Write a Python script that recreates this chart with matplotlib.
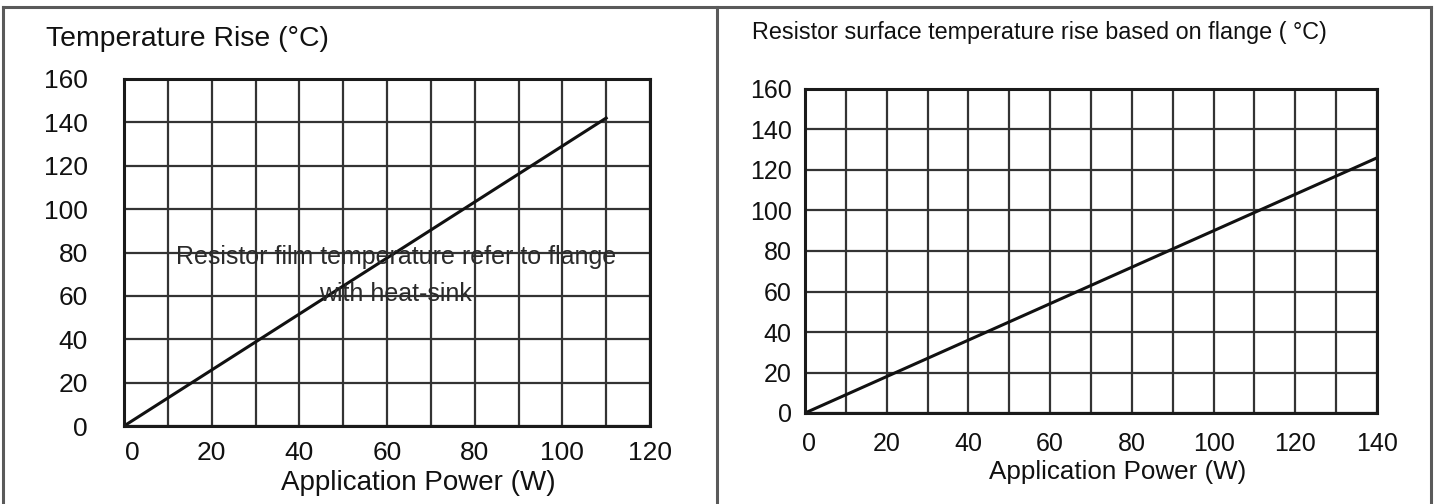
import matplotlib
matplotlib.use("Agg")
import matplotlib.pyplot as plt
from matplotlib.lines import Line2D
from matplotlib.transforms import ScaledTranslation

plt.rcParams['font.family'] = ['Liberation Sans', 'DejaVu Sans']

# ---- data ----
left_power = [0, 110]
left_temp = [0, 142]
left_xticks = [0, 20, 40, 60, 80, 100, 120]
left_yticks = [0, 20, 40, 60, 80, 100, 120, 140, 160]
left_title = "Temperature Rise (°C)"
left_note = ["Resistor film temperature refer to flange", "with heat-sink"]

right_power = [0, 140]
right_temp = [0, 126]
right_xticks = [0, 20, 40, 60, 80, 100, 120, 140]
right_yticks = [0, 20, 40, 60, 80, 100, 120, 140, 160]
right_title = "Resistor surface temperature rise based on flange ( °C)"

xlabel = "Application Power (W)"

W, H = 1438, 504
fig = plt.figure(figsize=(W / 100, H / 100), dpi=100)
fig.patch.set_facecolor('white')


def px_axes(x0, y0, x1, y1):
    return fig.add_axes([x0 / W, (H - y1) / H, (x1 - x0) / W, (y1 - y0) / H])


def style(ax, xmax, xticks, yticks, fs, xpad, ypad):
    ax.set_xlim(0, xmax)
    ax.set_ylim(0, 160)
    ax.set_xticks(xticks)
    ax.set_xticks(range(0, xmax + 1, 10), minor=True)
    ax.set_yticks(yticks)
    ax.grid(True, which='both', axis='x', color='#333333', lw=1.6)
    ax.grid(True, which='major', axis='y', color='#333333', lw=1.6)
    ax.tick_params(which='both', length=0)
    ax.tick_params(axis='x', labelsize=fs, pad=xpad, colors='#111111')
    ax.tick_params(axis='y', labelsize=fs, pad=ypad, colors='#111111')
    for s in ax.spines.values():
        s.set_linewidth(2.2)
        s.set_color('#1a1a1a')
    ax.set_axisbelow(True)


# left panel
axL = px_axes(124, 79, 650, 426)
style(axL, 120, left_xticks, left_yticks, 19, 11, 26)
axL.plot(left_power, left_temp, color='#111111', lw=2.2)
axL.text(62, 77.9, left_note[0], ha='center', va='center', fontsize=18, color='#2a2a2a')
axL.text(62, 60.9, left_note[1], ha='center', va='center', fontsize=18, color='#2a2a2a')
axL.set_xlabel(xlabel, fontsize=20, color='#111111', va='center')
axL.xaxis.set_label_coords((418 - 124) / 526, (426 - 483) / 347)
fig.text(46 / W, 1 - 39 / H, left_title, ha='left', va='center', fontsize=20.4, color='#111111')
# first x label sits a little right of the axis corner in the reference
lbl0 = axL.get_xticklabels()[0]
lbl0.set_transform(lbl0.get_transform() + ScaledTranslation(8 / 100, 0, fig.dpi_scale_trans))

# right panel
axR = px_axes(805, 89, 1377, 413)
style(axR, 140, right_xticks, right_yticks, 18, 14, 9.5)
axR.plot(right_power, right_temp, color='#111111', lw=2.2)
axR.set_xlabel(xlabel, fontsize=18.7, color='#111111', va='center')
axR.xaxis.set_label_coords((1117.5 - 805) / 572, (413 - 472) / 324)
fig.text(752 / W, 1 - 33 / H, right_title, ha='left', va='center', fontsize=16.8, color='#111111')
r0 = axR.get_xticklabels()[0]
r0.set_transform(r0.get_transform() + ScaledTranslation(4 / 100, 0, fig.dpi_scale_trans))

# panel borders
bc = '#5a5a5a'
for x in (2.5, 716.5, 1430.5):
    fig.add_artist(Line2D([x / W, x / W], [0, 1 - 7 / H], color=bc, lw=2.2, transform=fig.transFigure))
fig.add_artist(Line2D([2.5 / W, 1430.5 / W], [1 - 7 / H, 1 - 7 / H], color=bc, lw=2.2, transform=fig.transFigure))

fig.savefig("out.png", dpi=100)
